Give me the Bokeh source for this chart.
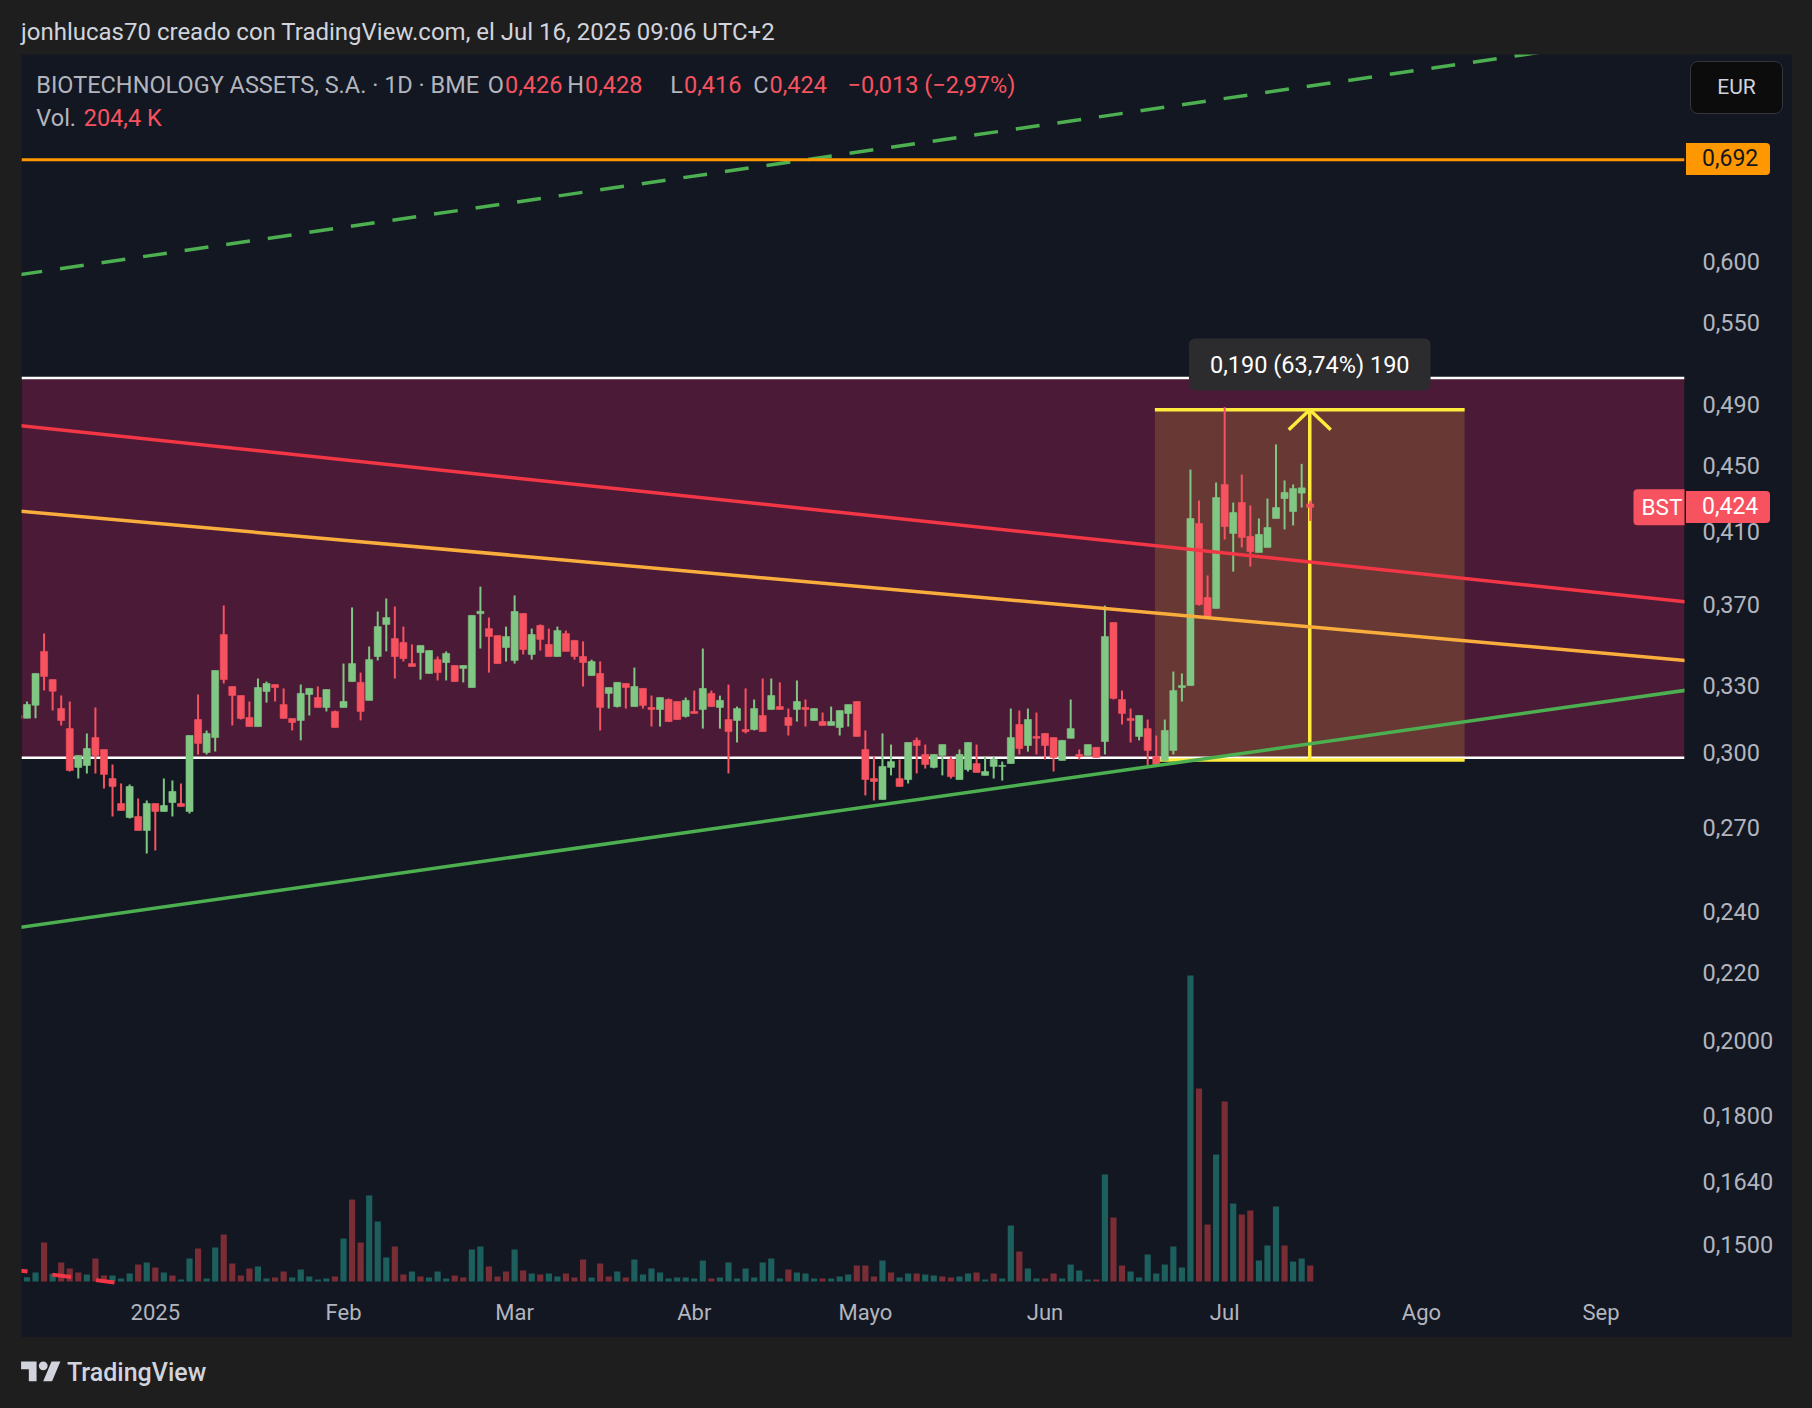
import math
from bokeh.plotting import figure
from bokeh.models import (ColumnDataSource, Range1d, LinearScale, FixedTicker,
                          CustomJSTickFormatter, Label, Div, Spacer, Span, BoxAnnotation)
from bokeh.layouts import column, row
from bokeh.embed import file_html
from bokeh.resources import INLINE

# ---------------- data ----------------
bar_index = list(range(-16, 136))   # 0 = first session of 2025

opens = [
    0.3162, 0.3150, 0.3208, 0.3461, 0.3326, 0.3193, 0.3104, 0.2939, 0.2947, 0.3065, 0.3014, 0.2893, 0.2793, 0.2739, 0.2742, 0.2689,
    0.2793, 0.2762, 0.2797, 0.2793, 0.2762, 0.3144, 0.3001, 0.3065, 0.3544, 0.3294, 0.3252, 0.3153, 0.3113, 0.3271, 0.3303, 0.3211, 0.3149, 0.3140, 0.3257, 0.3243, 0.3198, 0.3180,
    0.3198, 0.3317, 0.3313, 0.3230, 0.3436, 0.3595, 0.3524, 0.3505, 0.3402, 0.3455, 0.3355, 0.3421, 0.3407, 0.3393, 0.3379, 0.3289, 0.3650, 0.3574, 0.3539, 0.3480,
    0.3417, 0.3651, 0.3446, 0.3590, 0.3495, 0.3436, 0.3549, 0.3515, 0.3436, 0.3345, 0.3355, 0.3262, 0.3202, 0.3308, 0.3202, 0.3285, 0.3198, 0.3189, 0.3234, 0.3225, 0.3158,
    0.3180, 0.3189, 0.3262, 0.3198, 0.3144, 0.3140, 0.3100, 0.3100, 0.3162, 0.3189, 0.3202, 0.3153, 0.3189, 0.3198, 0.3140, 0.3135, 0.3118, 0.3109, 0.3171, 0.3225,
    0.3014, 0.2893, 0.2809, 0.2939, 0.2893, 0.2889, 0.3053, 0.2993, 0.2939, 0.2989, 0.2972, 0.2889, 0.2930, 0.2955, 0.2906, 0.2943, 0.2943, 0.2955, 0.3122, 0.3031, 0.3070,
    0.3083, 0.3065, 0.2968, 0.3062, 0.2993, 0.2989, 0.3023, 0.3048, 0.3605, 0.3234, 0.3149, 0.3070, 0.3104, 0.2984, 0.2968, 0.3010, 0.3289, 0.3298, 0.4145,
    0.3734, 0.3677, 0.4379, 0.4087, 0.4269, 0.4070, 0.3979, 0.4007, 0.4174, 0.4293, 0.4215, 0.4326, 0.426]

highs = [
    0.3166, 0.3225, 0.3355, 0.3549, 0.3326, 0.3252, 0.3225, 0.2989, 0.3083, 0.3198, 0.3014, 0.2951, 0.2873, 0.2869, 0.2813, 0.2805,
    0.2793, 0.2893, 0.2885, 0.2873, 0.3074, 0.3257, 0.3096, 0.3369, 0.3692, 0.3294, 0.3252, 0.3225, 0.3331, 0.3317, 0.3303, 0.3285, 0.3149, 0.3303, 0.3285, 0.3294, 0.3280, 0.3184,
    0.3402, 0.3682, 0.3359, 0.3485, 0.3661, 0.3729, 0.3687, 0.3584, 0.3495, 0.3490, 0.3465, 0.3436, 0.3461, 0.3393, 0.3393, 0.3641, 0.3792, 0.3630, 0.3539, 0.3584,
    0.3745, 0.3651, 0.3574, 0.3595, 0.3574, 0.3584, 0.3564, 0.3515, 0.3510, 0.3421, 0.3412, 0.3289, 0.3313, 0.3308, 0.3383, 0.3285, 0.3252, 0.3243, 0.3239, 0.3225, 0.3243,
    0.3275, 0.3475, 0.3275, 0.3252, 0.3303, 0.3202, 0.3285, 0.3234, 0.3331, 0.3331, 0.3313, 0.3193, 0.3322, 0.3234, 0.3193, 0.3175, 0.3202, 0.3184, 0.3211, 0.3225,
    0.3096, 0.2984, 0.3083, 0.3035, 0.2972, 0.3044, 0.3065, 0.3035, 0.2993, 0.3035, 0.2984, 0.3014, 0.3044, 0.3035, 0.2984, 0.2984, 0.2963, 0.3193, 0.3184, 0.3193, 0.3175,
    0.3083, 0.3065, 0.3053, 0.3234, 0.3014, 0.3035, 0.3023, 0.3692, 0.3605, 0.3275, 0.3193, 0.3162, 0.3144, 0.3074, 0.3144, 0.3364, 0.3355, 0.4472, 0.4281,
    0.3852, 0.4391, 0.4883, 0.4269, 0.4441, 0.4251, 0.4174, 0.4293, 0.4633, 0.4404, 0.4379, 0.4508, 0.428]

lows = [
    0.3148, 0.3150, 0.3150, 0.3275, 0.3184, 0.3118, 0.2922, 0.2893, 0.2914, 0.2914, 0.2853, 0.2742, 0.2766, 0.2735, 0.2689, 0.2603,
    0.2614, 0.2762, 0.2742, 0.2781, 0.2754, 0.2993, 0.2993, 0.3005, 0.3308, 0.3118, 0.3144, 0.3113, 0.3113, 0.3220, 0.3225, 0.3149, 0.3096, 0.3053, 0.3162, 0.3198, 0.3180, 0.3109,
    0.3198, 0.3317, 0.3140, 0.3230, 0.3417, 0.3461, 0.3331, 0.3412, 0.3388, 0.3326, 0.3355, 0.3322, 0.3322, 0.3317, 0.3313, 0.3289, 0.3475, 0.3359, 0.3402, 0.3412,
    0.3402, 0.3446, 0.3421, 0.3465, 0.3436, 0.3436, 0.3461, 0.3421, 0.3294, 0.3345, 0.3096, 0.3193, 0.3198, 0.3193, 0.3202, 0.3193, 0.3113, 0.3113, 0.3135, 0.3144, 0.3153,
    0.3171, 0.3104, 0.3202, 0.3104, 0.2914, 0.3044, 0.3083, 0.3096, 0.3091, 0.3189, 0.3189, 0.3074, 0.3135, 0.3113, 0.3140, 0.3118, 0.3118, 0.3074, 0.3113, 0.3070,
    0.2825, 0.2805, 0.2809, 0.2906, 0.2861, 0.2873, 0.2914, 0.2934, 0.2935, 0.2906, 0.2893, 0.2889, 0.2922, 0.2918, 0.2906, 0.2893, 0.2885, 0.2955, 0.2993, 0.3005, 0.2993,
    0.2972, 0.2922, 0.2968, 0.3062, 0.2972, 0.2989, 0.2980, 0.2993, 0.3234, 0.3122, 0.3044, 0.3053, 0.2947, 0.2943, 0.2963, 0.2993, 0.3225, 0.3298, 0.3692,
    0.3625, 0.3677, 0.4052, 0.3873, 0.4007, 0.3901, 0.3979, 0.4007, 0.4174, 0.4110, 0.4133, 0.4239, 0.416]

closes = [
    0.3150, 0.3211, 0.3355, 0.3341, 0.3272, 0.3140, 0.2926, 0.2989, 0.3018, 0.2989, 0.2910, 0.2861, 0.2766, 0.2861, 0.2689, 0.2793,
    0.2762, 0.2785, 0.2841, 0.2781, 0.3074, 0.3040, 0.3083, 0.3369, 0.3326, 0.3252, 0.3149, 0.3113, 0.3289, 0.3308, 0.3289, 0.3149, 0.3131, 0.3262, 0.3285, 0.3198, 0.3280, 0.3109,
    0.3225, 0.3402, 0.3180, 0.3421, 0.3584, 0.3630, 0.3436, 0.3426, 0.3388, 0.3490, 0.3465, 0.3359, 0.3451, 0.3317, 0.3393, 0.3641, 0.3662, 0.3534, 0.3402, 0.3534,
    0.3661, 0.3470, 0.3544, 0.3520, 0.3436, 0.3564, 0.3461, 0.3436, 0.3407, 0.3412, 0.3198, 0.3289, 0.3313, 0.3289, 0.3294, 0.3207, 0.3189, 0.3243, 0.3135, 0.3144, 0.3230,
    0.3171, 0.3285, 0.3202, 0.3230, 0.3091, 0.3193, 0.3091, 0.3193, 0.3091, 0.3252, 0.3189, 0.3118, 0.3225, 0.3189, 0.3193, 0.3118, 0.3135, 0.3184, 0.3211, 0.3070,
    0.2889, 0.2881, 0.2943, 0.2963, 0.2861, 0.3044, 0.3031, 0.2951, 0.2993, 0.3035, 0.2901, 0.2993, 0.3044, 0.2918, 0.2922, 0.2972, 0.2947, 0.3065, 0.3018, 0.3144, 0.3062,
    0.3031, 0.2980, 0.3053, 0.3104, 0.2984, 0.3035, 0.2980, 0.3534, 0.3239, 0.3171, 0.3140, 0.3162, 0.3010, 0.2951, 0.3096, 0.3275, 0.3298, 0.4174, 0.3697,
    0.3635, 0.4299, 0.4127, 0.4209, 0.4064, 0.3984, 0.4081, 0.4121, 0.4239, 0.4330, 0.4354, 0.4358, 0.424]

volumes_k = [
    40, 55, 115, 498, 98, 243, 166, 115, 89, 294, 77, 77, 38, 102, 217, 243,
    179, 115, 77, 26, 294, 422, 38, 434, 600, 230, 77, 166, 192, 38, 51, 128, 51, 153, 64, 26, 38, 64,
    549, 1047, 498, 1099, 766, 307, 447, 89, 128, 64, 51, 128, 38, 77, 51, 409, 447, 192, 64, 128,
    409, 141, 102, 89, 102, 64, 102, 51, 281, 51, 230, 64, 128, 51, 281, 89, 166, 115, 38, 51, 51,
    38, 268, 38, 51, 243, 38, 166, 51, 243, 294, 38, 153, 115, 102, 38, 38, 38, 64, 89, 204,
    204, 64, 268, 115, 51, 102, 102, 89, 77, 64, 51, 64, 102, 115, 26, 102, 38, 715, 383, 166, 38,
    38, 102, 38, 217, 141, 26, 26, 1367, 818, 204, 128, 51, 345, 102, 217, 447, 179, 3909, 2465,
    728, 1622, 2299, 996, 856, 907, 268, 460, 958, 460, 255, 294, 204.4]

volume_dir = ("uuududddudduuudu" "duduuduudddduudduuuuud" "udduuudduduuudduuddd"
              "ududuudddudduduuuuuuu" "uuduuuuuuuuduuuduuud" "dduduuduudduududuuduu"
              "dduuuududduuuuuuuud" "dududduuuduud")

month_ticks = [0, 22, 42, 63, 83, 104, 125, 148, 169]
month_labels = ["2025", "Feb", "Mar", "Abr", "Mayo", "Jun", "Jul", "Ago", "Sep"]
price_ticks = [0.150, 0.164, 0.180, 0.200, 0.220, 0.240, 0.270, 0.300, 0.330,
               0.370, 0.410, 0.450, 0.490, 0.550, 0.600, 0.700]

# drawings (bar index, price)
range_box = (0.2979, 0.5088)
red_trend = ([-16, 179], [0.4759, 0.3711])
orange_trend = ([-16, 179], [0.4218, 0.3416])
green_trend = ([-16, 179], [0.2345, 0.3277])
green_dashed = ([-16, 180], [0.5884, 0.8313])
red_dashed = ([-15.75, -4.77], [0.1446, 0.1422])
resistance = 0.692
measure_x = (116.84, 153.05)
measure_y = (0.2970, 0.4865)
last_price = 0.424

HEADER = "jonhlucas70 creado con TradingView.com, el Jul 16, 2025 09:06 UTC+2"

# ---------------- layout constants (page pixels) ----------------
PAGE_W, PAGE_H = 1812, 1408
PANEL_L, PANEL_T, PANEL_R, PANEL_B = 21, 54, 1792, 1337
FRAME_R, FRAME_B = 1684, 1290
PX0, PXS = 154.8, 8.555          # page x of bar 0, px per bar
PY300, PYK = 752.3, 709.5        # page y of price 0.300, px per log unit
VOL_BASE, VOL_PX = 1281, 0.07828  # page y of zero volume, px per thousand

def xd(px):
    return (px - PX0) / PXS

def yd(py):
    return 0.3 * math.exp((PY300 - py) / PYK)

def py_of(price):
    return PY300 - PYK * math.log(price / 0.3)

BG = "#131722"
UP, DOWN = "#81c784", "#f7525f"
TXT = "#b2b5be"
FONT = "Roboto"

p = figure(width=PANEL_R - PANEL_L, height=PANEL_B - PANEL_T,
           x_range=Range1d(xd(PANEL_L), xd(FRAME_R)),
           y_range=Range1d(yd(FRAME_B), yd(PANEL_T)),
           y_axis_type="log", y_axis_location="right", title=None,
           output_backend="svg", toolbar_location=None,
           min_border_left=0, min_border_top=0,
           min_border_right=PANEL_R - FRAME_R, min_border_bottom=PANEL_B - FRAME_B)
p.background_fill_color = BG
p.border_fill_color = BG
p.outline_line_color = None
p.grid.grid_line_color = None

p.extra_y_ranges = {"vol": Range1d(-(FRAME_B - VOL_BASE) / VOL_PX, (VOL_BASE - PANEL_T) / VOL_PX)}
p.extra_y_scales = {"vol": LinearScale()}

# ---- background drawings ----
p.add_layout(BoxAnnotation(bottom=range_box[0], top=range_box[1], fill_color="#4b1a36",
                           fill_alpha=1, line_color=None, level="underlay"))
p.add_layout(BoxAnnotation(left=measure_x[0], right=measure_x[1], bottom=measure_y[0],
                           top=measure_y[1], fill_color="#683834", fill_alpha=1,
                           line_color=None, level="underlay"))
for yv in range_box:
    p.add_layout(Span(location=yv, dimension="width", line_color="#ffffff",
                      line_width=2.5, level="underlay"))

# ---- volume ----
vcol = ["#1d5f5d" if d == "u" else "#7b2d35" for d in volume_dir]
p.vbar(x=bar_index, top=volumes_k, bottom=0, width=0.72, fill_color=vcol,
       line_color=None, y_range_name="vol")

# ---- price range tool ----
YEL = "#ffeb3b"
mid_x = (measure_x[0] + measure_x[1]) / 2
p.segment(x0=[measure_x[0]] * 2, x1=[measure_x[1]] * 2, y0=list(measure_y), y1=list(measure_y),
          line_color=YEL, line_width=3.5)
p.segment(x0=[mid_x], x1=[mid_x], y0=[measure_y[0]], y1=[measure_y[1]], line_color=YEL, line_width=3.5)
arm_dx = 21 / PXS
arm_y = measure_y[1] * math.exp(-20 / PYK)
p.multi_line(xs=[[mid_x - arm_dx, mid_x, mid_x + arm_dx]], ys=[[arm_y, measure_y[1], arm_y]],
             line_color=YEL, line_width=3.5)

# ---- candles ----
ccol = [UP if c >= o else DOWN for o, c in zip(opens, closes)]
src = ColumnDataSource(dict(x=bar_index, h=highs, l=lows,
                            top=[max(o, c) for o, c in zip(opens, closes)],
                            bot=[min(o, c) for o, c in zip(opens, closes)], col=ccol))
p.segment(x0="x", x1="x", y0="h", y1="l", line_color="col", line_width=2, source=src)
p.vbar(x="x", width=0.82, top="top", bottom="bot", fill_color="col", line_color="col",
       line_width=0.6, source=src)

# ---- trend lines ----
p.line(red_trend[0], red_trend[1], line_color="#f23645", line_width=3.5)
p.line(orange_trend[0], orange_trend[1], line_color="#f9ad3c", line_width=3.5)
p.line(green_trend[0], green_trend[1], line_color="#4caf50", line_width=3.5)
p.line(green_dashed[0], green_dashed[1], line_color="#4caf50", line_width=3.5, line_dash="24 18")
p.line(red_dashed[0], red_dashed[1], line_color="#f23645", line_width=4, line_dash="19 25",
       line_dash_offset=12)
p.add_layout(Span(location=resistance, dimension="width", line_color="#ff9800", line_width=3))

# ---- axes ----
yax = p.yaxis[0]
yax.ticker = FixedTicker(ticks=price_ticks)
yax.formatter = CustomJSTickFormatter(
    code="return tick.toFixed(tick < 0.21 ? 4 : 3).replace('.', ',');")
xmap = "{" + ",".join(f"{t}:'{l}'" for t, l in zip(month_ticks, month_labels)) + "}"
xax = p.xaxis[0]
xax.ticker = FixedTicker(ticks=month_ticks)
xax.formatter = CustomJSTickFormatter(
    code=f"const m = {xmap}; const k = Math.round(tick); return (k in m) ? m[k] : '';")
for ax in (xax, yax):
    ax.axis_line_color = None
    ax.major_tick_line_color = None
    ax.minor_tick_line_color = None
    ax.major_tick_out = 0
    ax.major_tick_in = 0
    ax.minor_tick_out = 0
    ax.major_label_text_color = TXT
    ax.major_label_text_font = FONT
yax.major_label_text_font_size = "23.5px"
xax.major_label_text_font_size = "22px"
yax.major_label_standoff = 18
xax.major_label_standoff = 9


def label(text, px, py, color, size="23.5px", align="left", **kw):
    p.add_layout(Label(x=xd(px), y=yd(py), text=text, text_color=color, text_font=FONT,
                       text_font_size=size, text_align=align, text_baseline="middle", **kw))


# legend: name, then letter + red value pairs (letters right-aligned to their value)
label("BIOTECHNOLOGY ASSETS, S.A. · 1D · BME", 35.8, 84.4, TXT)
for letter, value, vx in [("O", "0,426", 504.5), ("H", "0,428", 584.5),
                          ("L", "0,416", 683.5), ("C", "0,424", 769.0)]:
    label(letter, vx - 1, 84.4, TXT, align="right")
    label(value, vx, 84.4, DOWN)
label("−0,013 (−2,97%)", 847.1, 84.4, DOWN)
label("Vol.", 35.8, 117.9, TXT)
label("204,4 K", 83.2, 117.9, DOWN)

# measure tooltip
p.add_layout(Label(x=mid_x, y=yd(364), text="0,190 (63,74%) 190", text_color="#ffffff",
                   text_font=FONT, text_font_size="23.5px", text_align="center",
                   text_baseline="middle", background_fill_color="#2c2c2e",
                   padding=(21, 12), border_radius=6))

# BST series tag (inside the frame)
label("BST", 1633, py_of(last_price), "#ffffff", size="22.5px",
      background_fill_color=DOWN, padding=(8, 5), border_radius=4)


# ---------------- page ----------------
def overlay_tag(text, left, top, w, h, bg, color, size, radius, pad_left=None, border=None):
    inner_align = "center" if pad_left is None else "left"
    pad = 0 if pad_left is None else pad_left
    st = {"position": "absolute", "left": f"{left}px", "top": f"{top}px",
          "background-color": bg, "border-radius": radius, "z-index": "10",
          "box-sizing": "border-box"}
    if border:
        st["border"] = f"1px solid {border}"
    html = (f'<div style="width:{w - (2 if border else 0)}px;height:{h - (2 if border else 0)}px;'
            f'line-height:{h - (2 if border else 0)}px;padding-left:{pad}px;box-sizing:border-box;'
            f'text-align:{inner_align};font-family:Roboto,sans-serif;font-size:{size};'
            f'color:{color};white-space:nowrap;">{text}</div>')
    return Div(text=html, width=w, height=h, margin=0, styles=st)


tags = [
    overlay_tag("0,692", FRAME_R + 2, round(py_of(resistance) - 16), 84, 32, "#ff9800",
                "#131722", "23px", "0 4px 4px 0", pad_left=16),
    overlay_tag("0,424", FRAME_R + 2, round(py_of(last_price) - 16), 84, 32, DOWN,
                "#ffffff", "23px", "0 4px 4px 0", pad_left=16),
    overlay_tag("EUR", 1690, 61, 93, 53, "#0c0c0d", "#d1d4dc", "21px", "8px", border="#34363c"),
]

header = Div(text=(f'<div style="padding:15px 0 0 21px;font-family:Roboto,sans-serif;'
                   f'font-size:24px;color:#d1d4dc;white-space:nowrap;">{HEADER}</div>'),
             width=PAGE_W, height=PANEL_T, margin=0)
logo = ('<svg width="40" height="31" viewBox="0 0 36 28" style="margin-right:6px">'
        '<path d="M14 22H7V11H0V4h14v18zM28 22h-8l7.5-18h8L28 22z" fill="#d1d4dc"/>'
        '<circle cx="20" cy="8" r="4" fill="#d1d4dc"/></svg>')
footer = Div(text=(f'<div style="display:flex;align-items:center;height:{PAGE_H - PANEL_B}px;'
                   f'padding-left:21px;font-family:Roboto,sans-serif;font-size:25px;'
                   f'font-weight:500;color:#d1d4dc;">{logo}TradingView</div>'),
             width=PAGE_W, height=PAGE_H - PANEL_B, margin=0)
mid = row(Spacer(width=PANEL_L, height=PANEL_B - PANEL_T, margin=0), p,
          Spacer(width=PAGE_W - PANEL_R, height=PANEL_B - PANEL_T, margin=0))
page = column(header, mid, footer, *tags, width=PAGE_W, height=PAGE_H,
              styles={"background-color": "#1e1e1e", "position": "relative",
                      "overflow": "hidden"})

with open("out.html", "w", encoding="utf-8") as f:
    f.write(file_html(page, INLINE, title="BST"))
